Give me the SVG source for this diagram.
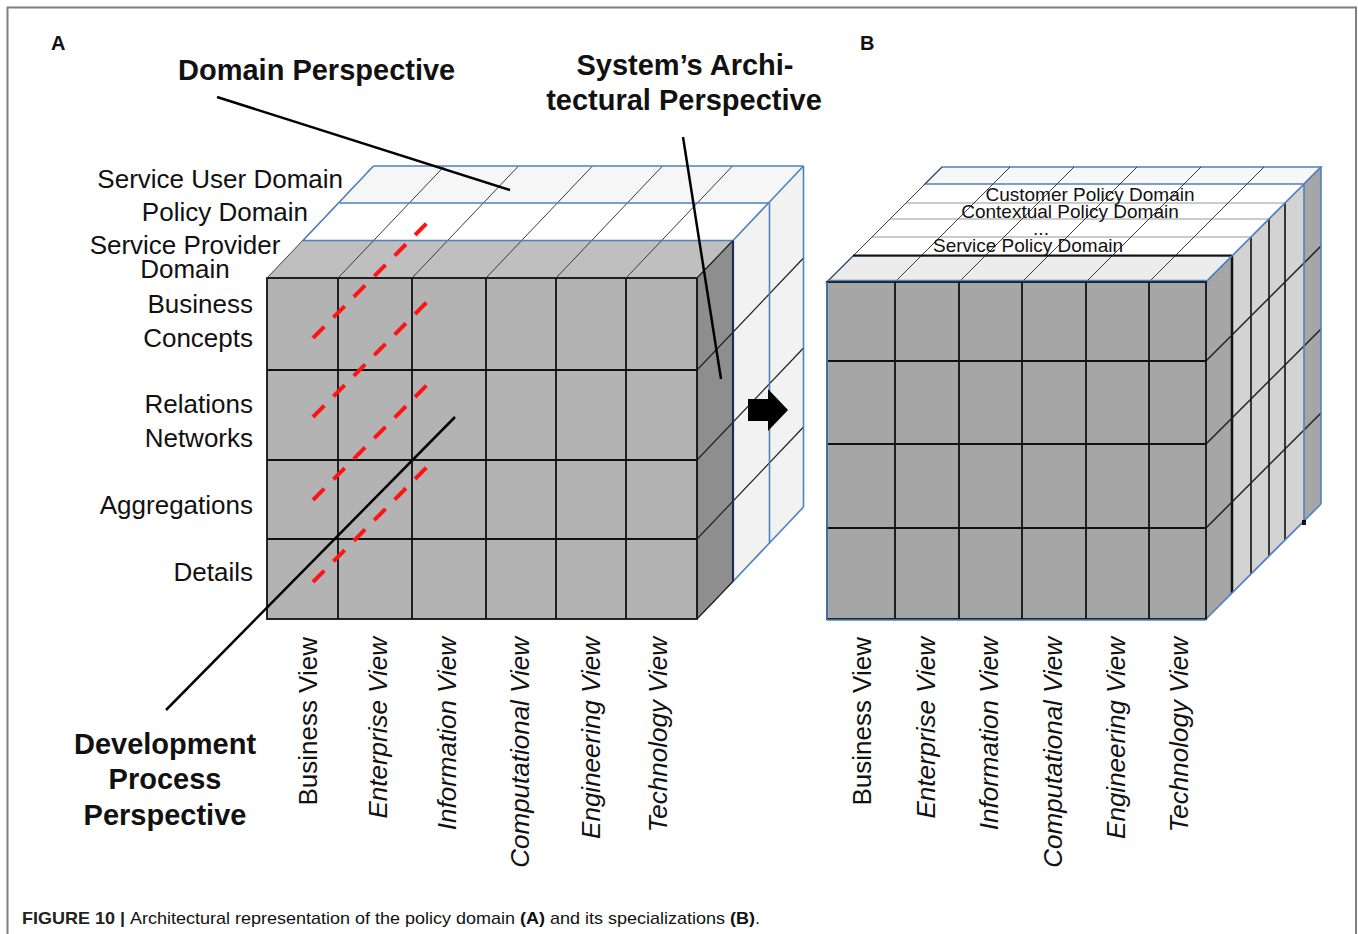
<svg xmlns="http://www.w3.org/2000/svg" width="1358" height="934" viewBox="0 0 1358 934">
<style>
text{font-family:"Liberation Sans",Arial,sans-serif;fill:#111}
.lbl{font-size:26px}
.ttl{font-size:29px;font-weight:bold}
.vw{font-size:26px;text-anchor:end}
.it{font-style:italic}
.top{font-size:19px;text-anchor:middle}
.g{stroke:#111;stroke-width:1.8;fill:none}
.thin{stroke:#3a3a3a;stroke-width:1;fill:none}
.blue{stroke:#4f81bd;stroke-width:1.6;fill:none}
.lead{stroke:#000;stroke-width:2.5;fill:none}
.red{stroke:#ff1414;stroke-width:4;stroke-dasharray:16 13;fill:none}
</style>
<rect x="0" y="0" width="1358" height="934" fill="#fff"/>
<rect id="frame" x="7.5" y="7.5" width="1348.5" height="960" fill="none" stroke="#7f7f7f" stroke-width="2"/>

<g id="panel-letters">
<text x="51" y="50" font-size="20" font-weight="bold">A</text>
<text x="860" y="50" font-size="20" font-weight="bold">B</text>
</g>

<g id="cubeA">
<polygon points="303,240.5 733,240.5 769.5,203 339.5,203" fill="#ffffff"/>
<polygon points="339.5,203 769.5,203 803.5,166 373.5,166" fill="#f6f6f6"/>
<polygon points="733,240.5 803.5,166 803.5,507 733,581.5" fill="#f2f2f2"/>
<polygon points="267,278 697,278 733,240.5 303,240.5" fill="#bfbfbf"/>
<polygon points="697,278 733,240.5 733,581.5 697,619" fill="#8e8e8e" stroke="#333" stroke-width="1"/>
<rect x="267" y="278" width="430" height="341" class="g" style="fill:#b3b3b3"/>
<path class="g" d="M338,278V619M412,278V619M486,278V619M556,278V619M626,278V619M267,370H697M267,460H697M267,539H697"/>
<path class="thin" d="M267,278L373.5,166M338,278L444.5,166M412,278L518.5,166M486,278L592.5,166M556,278L662.5,166M626,278L732.5,166"/>
<path stroke="#222" stroke-width="1.2" fill="none" d="M697,370L803.5,258M697,460L803.5,348M697,539L803.5,427M697,619L733,581.5M697,278L733,240.5"/>
<path class="blue" d="M303,240.5H733M339.5,203H769.5M373.5,166H803.5M733,240.5L803.5,166M769.5,203V544M803.5,166V507M733,581.5L803.5,507M303,240.5L373.5,166"/>
<line x1="733" y1="240.5" x2="733" y2="581.5" stroke="#1f2f4f" stroke-width="2.2"/>
<path class="red" d="M313,338L428,222M313,417L427,302M313,500L427,385M313,582L427,467"/>
</g>

<g id="cubeB">
<polygon points="827,282 1206,282 1321,167 942,167" fill="#ffffff"/>
<path stroke="#9a9a9a" stroke-width="1.2" fill="none" d="M872,237H1251M890,219H1269M906,203H1285"/>
<polygon points="925,184 1304,184 1321,167 942,167" class="blue" style="fill:#f7f7f7"/>
<polygon points="827,282 1206,282 1232,256 853,256" class="blue" style="fill:#ececec"/>
<path class="thin" d="M827,282L942,167M895,282L1010,167M959,282L1074,167M1022,282L1137,167M1086,282L1201,167M1149,282L1264,167"/>
<line x1="853" y1="255.5" x2="1232" y2="255.5" stroke="#111" stroke-width="2"/>
<polygon points="1206,282 1321,167 1321,504 1206,619" fill="#d3d3d3"/>
<polygon points="1206,282 1232,256 1232,593 1206,619" fill="#a6a6a6"/>
<polygon points="1304,184 1321,167 1321,504 1304,521" fill="#a6a6a6"/>
<path stroke="#111" stroke-width="1.6" fill="none" d="M1251,237V574M1269,219V556M1285,203V540"/>
<line x1="1232" y1="256" x2="1232" y2="593" stroke="#111" stroke-width="2.5"/>
<path stroke="#222" stroke-width="1.5" fill="none" d="M1206,361L1321,246M1206,444L1321,329M1206,528L1321,413"/>
<path class="blue" d="M1304,184V521M1321,167V504M1206,282L1321,167M1206,619L1321,504M1304,521L1321,504"/>
<rect x="1302" y="520" width="4" height="5" fill="#111"/>
<rect x="827" y="282" width="379" height="337" class="g" style="fill:#a6a6a6"/>
<path class="g" d="M895,282V619M959,282V619M1022,282V619M1086,282V619M1149,282V619M827,361H1206M827,444H1206M827,528H1206"/>
<path class="blue" d="M827,280.5H1206M827,620H1206M827,282V619"/>
<text class="top" x="1090" y="201">Customer Policy Domain</text>
<text class="top" x="1070" y="218">Contextual Policy Domain</text>
<text class="top" x="1041" y="235">...</text>
<text class="top" x="1028" y="252">Service Policy Domain</text>
</g>

<g id="connectors">
<line class="lead" x1="217" y1="97" x2="510" y2="190"/>
<line class="lead" x1="683" y1="137" x2="721" y2="379"/>
<line class="lead" x1="166" y1="710" x2="455" y2="417"/>
<polygon id="arrow" points="748,399 768,399 768,389 788,410 768,431 768,421 748,421" fill="#000"/>
</g>

<g id="titles">
<text class="ttl" x="178" y="80">Domain Perspective</text>
<text class="ttl" x="685" y="75" text-anchor="middle">System’s Archi-</text>
<text class="ttl" x="684" y="110" text-anchor="middle">tectural Perspective</text>
<text class="ttl" x="165" y="754" text-anchor="middle">Development</text>
<text class="ttl" x="165" y="789" text-anchor="middle">Process</text>
<text class="ttl" x="165" y="825" text-anchor="middle">Perspective</text>
</g>

<g id="rowLabelsA">
<text class="lbl" x="343" y="188" text-anchor="end">Service User Domain</text>
<text class="lbl" x="308" y="221" text-anchor="end">Policy Domain</text>
<text class="lbl" x="185" y="254" text-anchor="middle">Service Provider</text>
<text class="lbl" x="185" y="278" text-anchor="middle">Domain</text>
<text class="lbl" x="253" y="313" text-anchor="end">Business</text>
<text class="lbl" x="253" y="347" text-anchor="end">Concepts</text>
<text class="lbl" x="253" y="413" text-anchor="end">Relations</text>
<text class="lbl" x="253" y="447" text-anchor="end">Networks</text>
<text class="lbl" x="253" y="514" text-anchor="end">Aggregations</text>
<text class="lbl" x="253" y="581" text-anchor="end">Details</text>
</g>

<g id="viewLabelsA">
<text class="vw" transform="translate(317,637) rotate(-90)">Business View</text>
<text class="vw it" transform="translate(387,637) rotate(-90)">Enterprise View</text>
<text class="vw it" transform="translate(456,637) rotate(-90)">Information View</text>
<text class="vw it" transform="translate(529,637) rotate(-90)">Computational View</text>
<text class="vw it" transform="translate(600,637) rotate(-90)">Engineering View</text>
<text class="vw it" transform="translate(667,637) rotate(-90)">Technology View</text>
</g>

<g id="viewLabelsB">
<text class="vw" transform="translate(871,637) rotate(-90)">Business View</text>
<text class="vw it" transform="translate(935,637) rotate(-90)">Enterprise View</text>
<text class="vw it" transform="translate(998,637) rotate(-90)">Information View</text>
<text class="vw it" transform="translate(1062,637) rotate(-90)">Computational View</text>
<text class="vw it" transform="translate(1125,637) rotate(-90)">Engineering View</text>
<text class="vw it" transform="translate(1188,637) rotate(-90)">Technology View</text>
</g>

<g id="caption">
<text x="22" y="924" font-size="17" textLength="738" lengthAdjust="spacingAndGlyphs" fill="#333"><tspan font-weight="bold" fill="#222">FIGURE 10 | </tspan>Architectural representation of the policy domain <tspan font-weight="bold">(A)</tspan> and its specializations <tspan font-weight="bold">(B)</tspan>.</text>
</g>
</svg>
